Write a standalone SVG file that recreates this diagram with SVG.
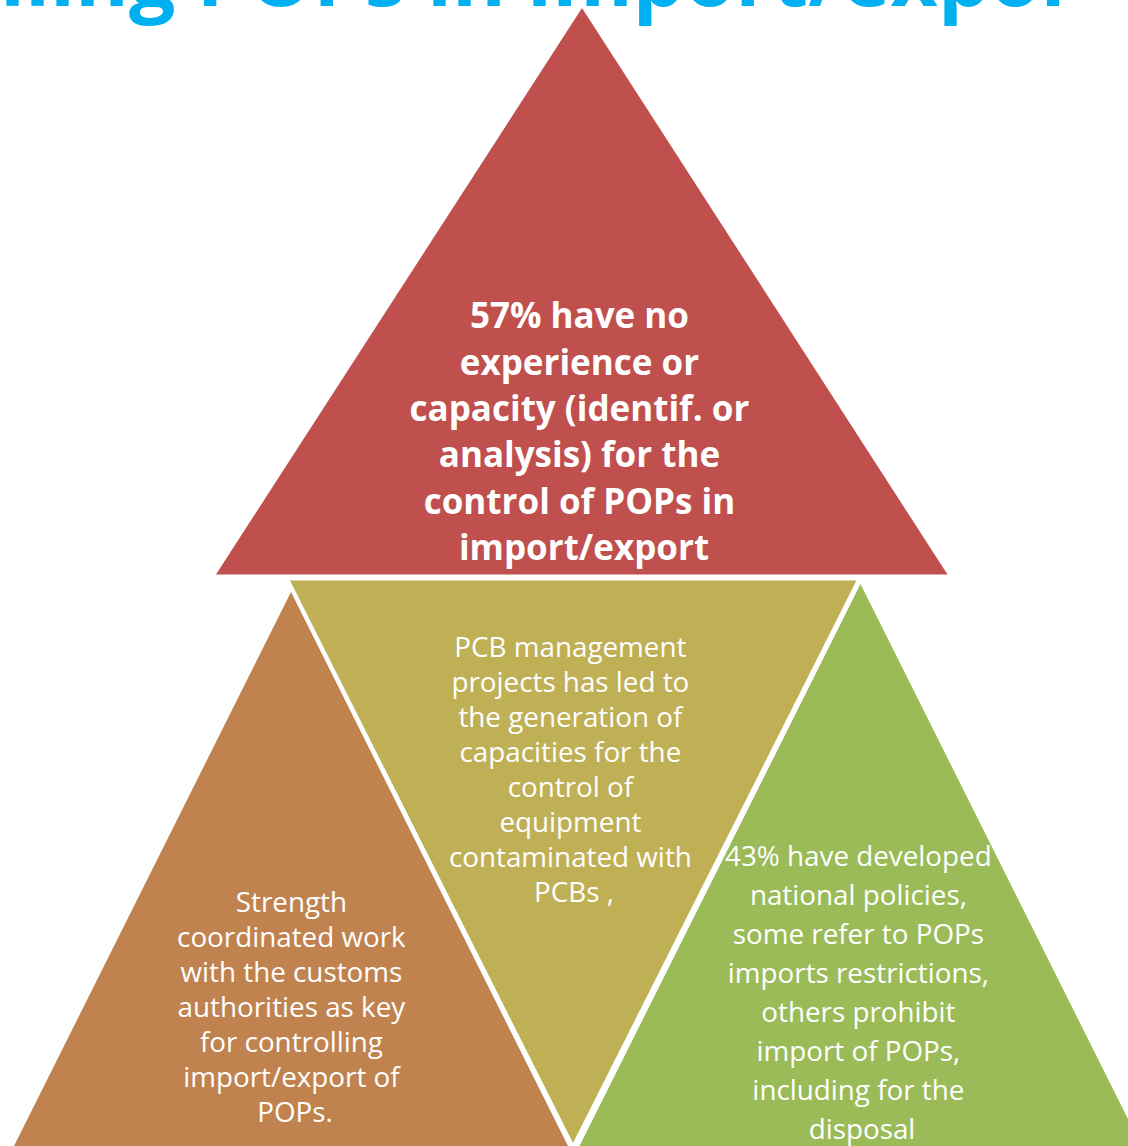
<svg xmlns="http://www.w3.org/2000/svg" width="1128" height="1146" viewBox="0 0 1128 1146">
  <style>
    .title { font-family: "Open Sans", "Liberation Sans", sans-serif; font-weight: bold; font-size: 82px; fill: #00B0F0; }
    .big { font-family: "Open Sans", "Liberation Sans", sans-serif; font-weight: bold; font-size: 35px; fill: #FFFFFF; text-anchor: middle; }
    .txt { font-family: "Open Sans", "Liberation Sans", sans-serif; font-size: 27.8px; fill: #FFFFFF; text-anchor: middle; }
  </style>
  <rect x="0" y="0" width="1128" height="1146" fill="#FFFFFF"/>
  <text id="title" class="title" x="0" y="6">lling POPs in import/expor</text>

  <g id="node-red">
    <polygon points="582,8 216,574.5 947.5,574.5" fill="#C0504D"/>
    <text class="big">
      <tspan x="584" y="328">57% have no</tspan>
      <tspan x="584" y="375">experience or</tspan>
      <tspan x="584" y="421">capacity (identif. or</tspan>
      <tspan x="584" y="467">analysis) for the</tspan>
      <tspan x="584" y="514">control of POPs in</tspan>
      <tspan x="584" y="560">import/export</tspan>
    </text>
  </g>

  <g id="node-olive">
    <polygon points="290,580.5 856.5,580.5 573,1143" fill="#BFB056"/>
    <text class="txt">
      <tspan x="574" y="657">PCB management</tspan>
      <tspan x="574" y="692">projects has led to</tspan>
      <tspan x="574" y="727">the generation of</tspan>
      <tspan x="574" y="762">capacities for the</tspan>
      <tspan x="574" y="797">control of</tspan>
      <tspan x="574" y="832">equipment</tspan>
      <tspan x="574" y="867">contaminated with</tspan>
      <tspan x="574" y="902">PCBs ,</tspan>
    </text>
  </g>

  <g id="node-brown">
    <polygon points="291,592 12,1150 570,1150" fill="#C0834F"/>
    <text class="txt">
      <tspan x="295" y="912">Strength</tspan>
      <tspan x="295" y="947">coordinated work</tspan>
      <tspan x="295" y="982">with the customs</tspan>
      <tspan x="295" y="1017">authorities as key</tspan>
      <tspan x="295" y="1052">for controlling</tspan>
      <tspan x="295" y="1087">import/export of</tspan>
      <tspan x="295" y="1122">POPs.</tspan>
    </text>
  </g>

  <g id="node-green">
    <polygon points="860.5,584 577,1151 1144,1151" fill="#9BBB59"/>
    <text class="txt">
      <tspan x="862" y="866">43% have developed</tspan>
      <tspan x="862" y="905">national policies,</tspan>
      <tspan x="862" y="944">some refer to POPs</tspan>
      <tspan x="862" y="983">imports restrictions,</tspan>
      <tspan x="862" y="1022">others prohibit</tspan>
      <tspan x="862" y="1061">import of POPs,</tspan>
      <tspan x="862" y="1100">including for the</tspan>
      <tspan x="862" y="1139">disposal</tspan>
    </text>
  </g>

  <g id="connectors"></g>
</svg>
